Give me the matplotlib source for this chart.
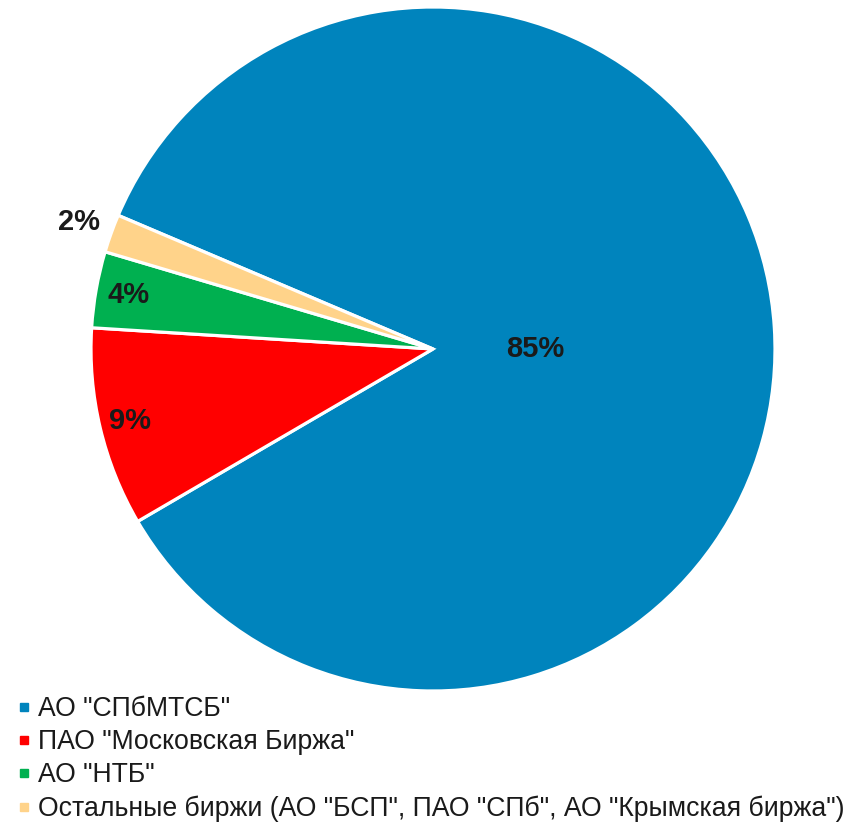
import numpy as np
import matplotlib
matplotlib.use("Agg")
import matplotlib.pyplot as plt
from matplotlib.lines import Line2D

categories = ['АО "СПбМТСБ"', 'ПАО "Московская Биржа"', 'АО "НТБ"',
              'Остальные биржи (АО "БСП", ПАО "СПб", АО "Крымская биржа")']
values = [85.2, 9.4, 3.6, 1.8]
pct_labels = ['85%', '9%', '4%', '2%']
colors = ['#0084BD', '#FF0000', '#00B050', '#FFD38A']
label_dist = [0.30, 0.91, 0.905, 1.10]

plt.rcParams['font.family'] = ['Liberation Sans', 'DejaVu Sans']

fig = plt.figure(figsize=(8.66, 8.22), dpi=100)
W, H = 866, 822
cx, cy, r = 433, 822 - 349, 342
ax = fig.add_axes([(cx - r) / W, (cy - r) / H, 2 * r / W, 2 * r / H])
wedges, _ = ax.pie(values, colors=colors, startangle=157, counterclock=False,
                   radius=1, wedgeprops=dict(edgecolor='white', linewidth=2.3))
ax.set_xlim(-1, 1)
ax.set_ylim(-1, 1)
ax.set_aspect('equal')
ax.axis('off')

for i, (w, lab, d) in enumerate(zip(wedges, pct_labels, label_dist)):
    ang = np.deg2rad((w.theta1 + w.theta2) / 2)
    if i == 0:
        ang = 0.0
    ax.text(d * np.cos(ang), d * np.sin(ang), lab, ha='center', va='center',
            fontsize=21, fontweight='bold', color='#1a1a1a', clip_on=False)

handles = [Line2D([0], [0], marker='s', linestyle='none', markersize=5.2,
                  markerfacecolor=c, markeredgecolor=c) for c in colors]
leg = fig.legend(handles, categories, loc='upper left',
                 bbox_to_anchor=(19 / W, 1 - 696 / H), frameon=False,
                 handlelength=0.4, handletextpad=0.3, labelspacing=0.27,
                 borderaxespad=0, borderpad=0,
                 prop=dict(family=['Liberation Sans'], size=19.2))
for t in leg.get_texts():
    t.set_color('#1a1a1a')

fig.savefig('out.png', dpi=100)
